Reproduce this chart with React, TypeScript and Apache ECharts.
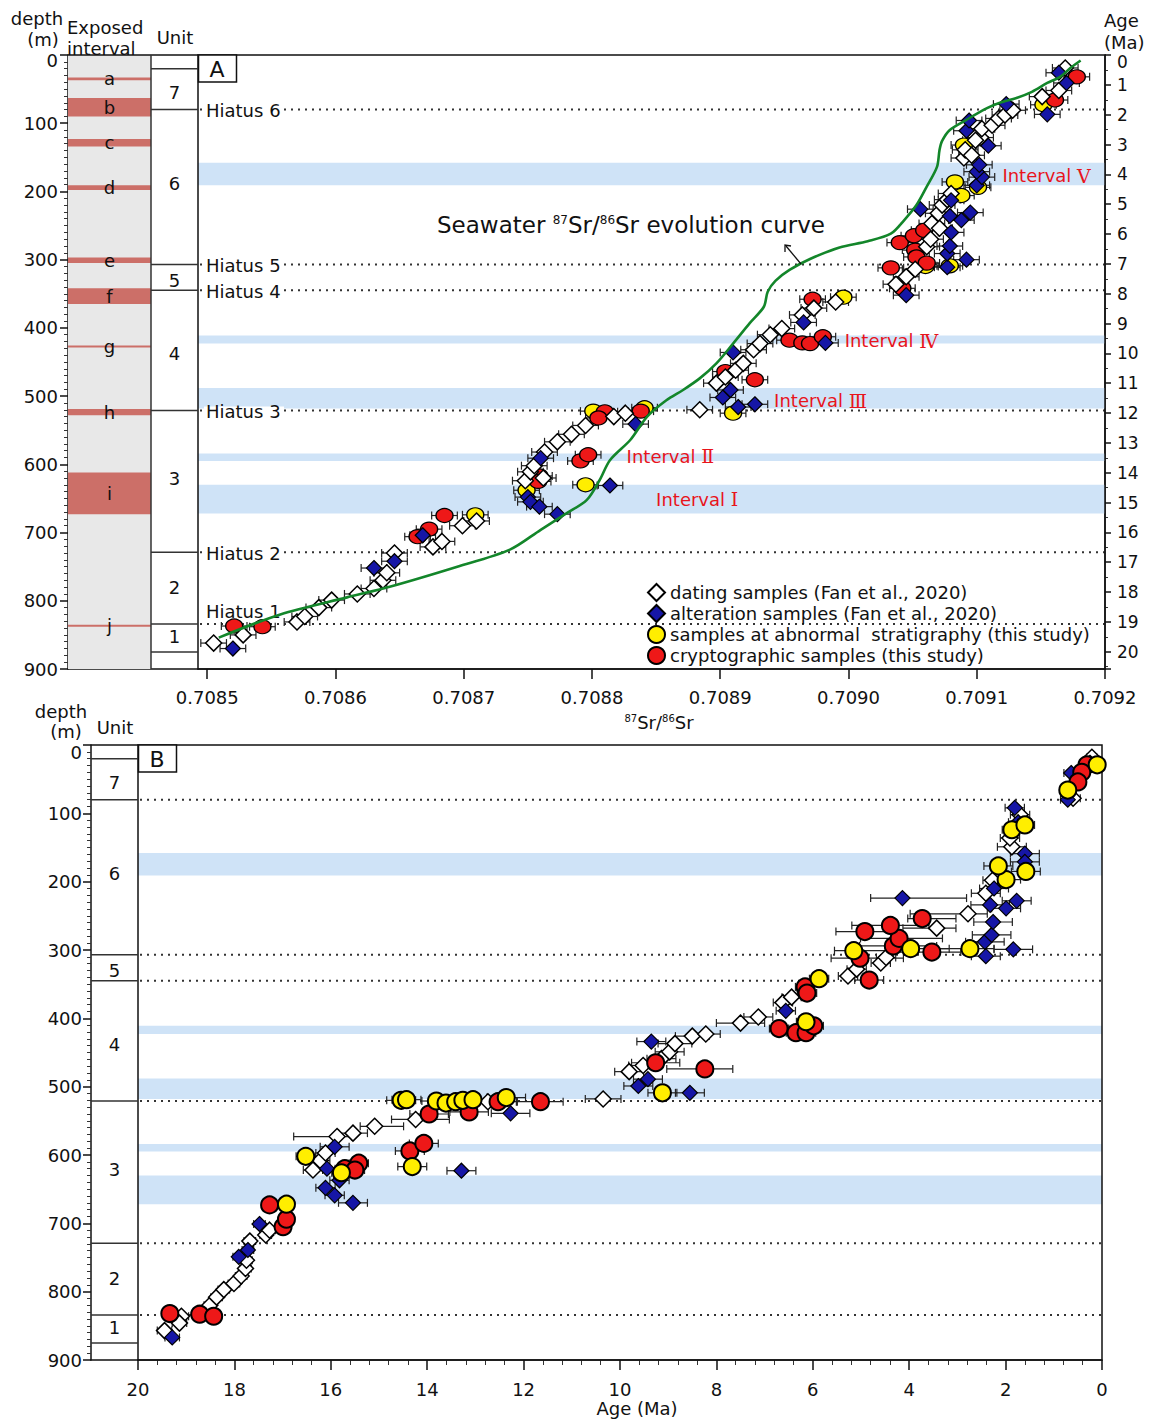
import React, { useEffect, useRef } from 'react';
import * as echarts from 'echarts';

const FONT = '"DejaVu Sans", Verdana, sans-serif';
const SERIF = '"DejaVu Serif", "Liberation Serif", serif';

// ---------- names ----------
const N_DATING = 'dating samples (Fan et al., 2020)';
const N_ALTER = 'alteration samples (Fan et al., 2020)';
const N_ABN = 'samples at abnormal  stratigraphy (this study)';
const N_CRYPT = 'cryptographic samples (this study)';

// ---------- axes ----------
const SR_MIN = 0.7084928;
const SR_MAX = 0.7092;
const srTicks = [0.7085, 0.7086, 0.7087, 0.7088, 0.7089, 0.709, 0.7091, 0.7092];
const AGE_A_MAX = 20.58;
const DEPTH_MAX = 900;

// ---------- panel A : [87Sr/86Sr, depth (m), ± error] ----------
const datingA = [
  [0.708505, 862, 0.00001], [0.708528, 850, 0.00001], [0.70857, 831, 0.00001], [0.708576, 823, 0.00001],
  [0.708587, 810, 0.00001], [0.708597, 799, 0.00001], [0.708617, 790, 0.00001], [0.70863, 782, 0.00001],
  [0.708637, 770, 0.00001], [0.70864, 759, 0.00001], [0.708646, 730, 0.00001], [0.708676, 721, 0.00001],
  [0.708683, 713, 0.00001], [0.708699, 690, 0.00001], [0.70871, 683, 0.00001],
  [0.708748, 624, 0.00001], [0.708752, 611, 0.00001], [0.708755, 602, 0.00001], [0.708762, 620, 0.00001],
  [0.708763, 582, 0.00001], [0.708773, 567, 0.00001], [0.708784, 556, 0.00001], [0.708795, 543, 0.00001],
  [0.708817, 530, 0.00001], [0.708826, 525, 0.00001], [0.708884, 520, 0.00001],
  [0.708897, 481, 0.00001], [0.708904, 472, 0.00001], [0.708912, 462, 0.00001], [0.708918, 452, 0.00001],
  [0.708926, 432, 0.00001], [0.708931, 423, 0.00001], [0.708939, 410, 0.00001], [0.708948, 401, 0.00001],
  [0.708964, 381, 0.00001], [0.708973, 371, 0.00001], [0.70899, 362, 0.00001],
  [0.709037, 336, 0.00001], [0.709045, 325, 0.00001], [0.709052, 314, 0.00001], [0.709061, 281, 0.00001],
  [0.709064, 270, 0.00001], [0.709065, 247, 0.00001], [0.709071, 254, 0.00001], [0.70907, 232, 0.00001],
  [0.709073, 220, 0.00001], [0.709077, 212, 0.00001], [0.70908, 203, 0.00001], [0.70909, 151, 0.00001],
  [0.709091, 139, 0.00001], [0.709096, 147, 0.00001], [0.709103, 121, 0.00001], [0.709104, 108, 0.00001],
  [0.709099, 125, 0.00001], [0.709112, 103, 0.00001], [0.709117, 93, 0.00001], [0.709122, 88, 0.00001],
  [0.709128, 81, 0.00001], [0.709151, 61, 0.00001], [0.709164, 52, 0.00001], [0.709169, 19, 0.00001],
];
const alterationA = [
  [0.70852, 870, 0.00001], [0.70863, 752, 0.00001], [0.708646, 742, 0.00001], [0.708668, 704, 0.00001],
  [0.70876, 591, 0.00001], [0.70875, 648, 0.00001], [0.708752, 655, 0.00001], [0.708759, 662, 0.00001],
  [0.708773, 673, 0.00001], [0.708814, 631, 0.00001], [0.708834, 541, 0.00001], [0.708914, 516, 0.00001],
  [0.708927, 512, 0.00001], [0.708902, 502, 0.00001], [0.708908, 491, 0.00001], [0.70891, 436, 0.00001],
  [0.708982, 422, 0.00001], [0.708965, 392, 0.00001], [0.709045, 352, 0.00001], [0.709077, 311, 0.00001],
  [0.709092, 300, 0.00001], [0.709077, 291, 0.00001], [0.709079, 280, 0.00001], [0.70908, 260, 0.00001],
  [0.709079, 236, 0.00001], [0.709088, 242, 0.00001], [0.709095, 231, 0.00001], [0.709056, 226, 0.00001],
  [0.70908, 213, 0.00001], [0.7091, 191, 0.00001], [0.709104, 179, 0.00001], [0.7091, 171, 0.00001],
  [0.709102, 161, 0.00001], [0.709109, 133, 0.00001], [0.709092, 111, 0.00001], [0.709094, 96, 0.00001],
  [0.709123, 72, 0.00001], [0.709155, 87, 0.00001], [0.70917, 41, 0.00001], [0.709164, 26, 0.00001],
];
const abnormalA = [
  [0.708709, 674, 0.00001], [0.708749, 638, 0.00001], [0.708795, 630, 0.00001], [0.708801, 522, 0.00001],
  [0.708841, 517, 0.00001], [0.70891, 525, 0.00001], [0.708996, 355, 0.00001], [0.70906, 310, 0.00001],
  [0.709079, 309, 0.00001], [0.709088, 206, 0.00001], [0.709083, 186, 0.00001], [0.709101, 194, 0.00001],
  [0.70909, 132, 0.00001], [0.709152, 73, 0.00001],
];
const cryptoA = [
  [0.708521, 837, 0.00001], [0.708543, 838, 0.00001], [0.708664, 706, 0.00001], [0.708673, 695, 0.00001],
  [0.708685, 675, 0.00001], [0.708759, 617, 0.00001], [0.708758, 625, 0.00001], [0.708791, 595, 0.00001],
  [0.708797, 586, 0.00001], [0.70881, 523, 0.00001], [0.708805, 532, 0.00001], [0.708838, 522, 0.00001],
  [0.708927, 476, 0.00001], [0.708904, 464, 0.00001], [0.708954, 418, 0.00001], [0.708964, 422, 0.00001],
  [0.70897, 423, 0.00001], [0.70898, 413, 0.00001], [0.708972, 358, 0.00001], [0.709033, 312, 0.00001],
  [0.70904, 275, 0.00001], [0.709051, 265, 0.00001], [0.709059, 257, 0.00001], [0.709052, 286, 0.00001],
  [0.709053, 296, 0.00001], [0.709061, 305, 0.00001], [0.709042, 342, 0.00001], [0.709161, 66, 0.00001],
  [0.709178, 32, 0.00001],
];

// seawater 87Sr/86Sr evolution curve [ratio, depth]
const seawaterCurve = [
  [0.708509, 854], [0.708557, 820], [0.708609, 795], [0.708643, 779], [0.708695, 750], [0.708736, 725],
  [0.70876, 696], [0.70878, 672], [0.708796, 652], [0.708806, 623], [0.708814, 594], [0.70883, 564],
  [0.708843, 530], [0.708858, 506], [0.708871, 491], [0.708884, 474], [0.708897, 452], [0.70891, 423],
  [0.708923, 393], [0.708934, 369], [0.708937, 347], [0.708943, 331], [0.708954, 315], [0.70897, 299],
  [0.708993, 282], [0.709015, 273], [0.709033, 262], [0.709043, 243], [0.709053, 220], [0.709061, 193],
  [0.709069, 164], [0.709071, 139], [0.709073, 126], [0.709079, 110], [0.709092, 95], [0.709108, 78],
  [0.709118, 70], [0.709131, 63], [0.709143, 54], [0.709155, 41], [0.709165, 32], [0.709173, 19],
  [0.709181, 8],
];

// ---------- panel B : [age (Ma), depth (m), older error, younger error] ----------
const datingB = [
  [19.1, 836, 0.15, 0.15], [19.14, 846, 0.15, 0.15], [19.45, 857, 0.15, 0.15], [18.51, 820, 0.12, 0.12],
  [18.37, 808, 0.12, 0.12], [18.22, 797, 0.12, 0.12], [18.01, 788, 0.12, 0.12], [17.86, 777, 0.12, 0.12],
  [17.77, 766, 0.12, 0.12], [17.75, 754, 0.12, 0.12], [17.68, 726, 0.12, 0.12], [17.35, 717, 0.12, 0.12],
  [17.27, 710, 0.12, 0.12], [16.37, 622, 0.2, 0.2], [16.22, 608, 0.2, 0.2], [16.11, 597, 0.2, 0.2],
  [15.87, 573, 0.9, 0.3], [15.54, 568, 0.3, 0.3], [15.09, 558, 0.3, 0.6], [14.24, 548, 0.5, 0.7],
  [12.74, 522, 0.3, 0.3], [10.35, 518, 0.37, 0.37], [9.81, 478, 0.3, 0.3], [9.52, 469, 0.3, 0.3],
  [9.14, 459, 0.3, 0.3], [8.97, 449, 0.3, 0.3], [8.86, 437, 0.35, 0.35], [8.5, 426, 0.35, 0.35],
  [8.22, 423, 0.3, 0.3], [7.5, 407, 0.5, 0.5], [7.13, 398, 0.3, 0.3], [6.62, 377, 0.2, 0.2],
  [6.44, 369, 0.2, 0.2], [5.27, 338, 0.2, 0.2], [5.09, 328, 0.2, 0.2], [4.59, 319, 0.2, 0.2],
  [4.48, 311, 0.2, 0.2], [3.43, 268, 0.7, 0.4], [2.78, 247, 1.2, 0.4], [2.41, 217, 0.3, 0.3],
  [2.27, 198, 0.2, 0.2], [1.87, 149, 0.3, 0.3], [1.7, 102, 0.2, 0.2], [1.91, 136, 0.2, 0.2],
  [0.5, 48, 0.15, 0.15], [0.21, 18, 0.1, 0.1], [0.6, 78, 0.15, 0.15],
];
const alterationB = [
  [19.29, 867, 0.15, 0.15], [17.91, 749, 0.12, 0.12], [17.72, 739, 0.12, 0.12], [17.48, 701, 0.12, 0.12],
  [16.08, 620, 0.2, 0.2], [16.11, 648, 0.2, 0.2], [15.92, 659, 0.2, 0.2], [15.82, 637, 0.2, 0.2],
  [15.54, 670, 0.3, 0.3], [15.92, 588, 0.3, 0.3], [13.29, 623, 0.3, 0.3], [12.27, 539, 0.4, 0.4],
  [9.35, 434, 0.3, 0.3], [9.42, 489, 0.3, 0.3], [9.62, 499, 0.3, 0.3], [8.55, 509, 0.3, 0.3],
  [6.56, 389, 0.2, 0.2], [4.14, 224, 0.66, 1.33], [2.41, 309, 0.3, 0.3], [1.84, 299, 0.4, 0.4],
  [2.43, 288, 0.4, 0.4], [2.29, 278, 0.4, 0.4], [2.26, 259, 0.4, 0.4], [2.32, 234, 0.4, 0.4],
  [1.99, 239, 0.3, 0.3], [1.77, 228, 0.3, 0.3], [2.24, 210, 0.3, 0.3], [1.6, 159, 0.3, 0.3],
  [1.6, 171, 0.3, 0.3], [1.81, 92, 0.2, 0.2], [1.74, 113, 0.2, 0.2], [0.64, 41, 0.15, 0.15],
  [0.25, 26, 0.1, 0.1], [0.71, 80, 0.15, 0.15],
];
const abnormalB = [
  [16.92, 672, 0.15, 0.15], [16.52, 602, 0.2, 0.2], [15.78, 626, 0.2, 0.2], [14.31, 617, 0.3, 0.3],
  [14.54, 520, 0.3, 0.3], [14.43, 519, 0.3, 0.3], [13.81, 521, 0.3, 0.3], [13.61, 524, 0.3, 0.3],
  [13.41, 522, 0.3, 0.3], [13.26, 520, 0.3, 0.3], [13.05, 519, 0.3, 0.3], [12.36, 516, 0.4, 0.4],
  [9.12, 509, 0.3, 0.3], [6.14, 405, 0.2, 0.2], [5.87, 342, 0.2, 0.2], [5.15, 301, 0.4, 0.8],
  [3.97, 298, 0.5, 0.8], [2.74, 298, 0.9, 0.5], [1.99, 197, 0.3, 0.3], [2.15, 177, 0.3, 0.3],
  [1.58, 185, 0.3, 0.3], [1.87, 124, 0.2, 0.2], [1.6, 117, 0.2, 0.2], [0.71, 66, 0.15, 0.15],
  [0.1, 29, 0.1, 0.1],
];
const cryptoB = [
  [19.34, 832, 0.15, 0.15], [18.72, 833, 0.15, 0.15], [18.43, 836, 0.15, 0.15], [16.99, 705, 0.15, 0.15],
  [16.92, 694, 0.15, 0.15], [17.27, 673, 0.15, 0.15], [15.71, 620, 0.2, 0.2], [15.42, 612, 0.2, 0.2],
  [15.5, 622, 0.2, 0.2], [14.36, 594, 0.3, 0.3], [14.07, 583, 0.3, 0.3], [13.96, 540, 0.4, 0.4],
  [13.13, 537, 0.4, 0.4], [12.53, 522, 0.4, 0.4], [11.65, 522, 0.5, 0.47], [9.26, 465, 0.5, 0.5],
  [8.24, 474, 0.79, 0.58], [6.7, 415, 0.2, 0.2], [6.35, 421, 0.2, 0.2], [6.14, 421, 0.2, 0.2],
  [5.98, 411, 0.2, 0.2], [6.16, 354, 0.2, 0.2], [6.12, 363, 0.2, 0.2], [4.83, 344, 0.3, 0.3],
  [5.02, 312, 0.6, 0.9], [4.33, 294, 0.7, 0.9], [4.21, 283, 0.8, 0.9], [3.53, 303, 0.8, 0.6],
  [4.92, 273, 0.6, 0.6], [4.39, 264, 0.8, 0.8], [3.73, 254, 0.3, 0.7], [0.31, 29, 0.1, 0.1],
  [0.42, 40, 0.1, 0.1], [0.5, 54, 0.1, 0.1],
];

// ---------- stratigraphy ----------
const exposedIntervals = [
  [33, 37, 'a'], [63, 90, 'b'], [123, 134, 'c'], [191, 198, 'd'], [297, 305, 'e'],
  [342, 365, 'f'], [426, 428.5, 'g'], [519, 528, 'h'], [612, 673, 'i'], [835.5, 838, 'j'],
];
const unitBoundaries = [20, 80, 307, 345, 521, 729, 834, 875];
const unitLabels = [[55, '7'], [188, '6'], [330, '5'], [438, '4'], [621, '3'], [780, '2'], [853, '1']];
const hiatuses = [
  [80, 'Hiatus 6'], [307, 'Hiatus 5'], [345, 'Hiatus 4'], [521, 'Hiatus 3'], [729, 'Hiatus 2'], [834, 'Hiatus 1'],
];
const intervalBands = [[158, 191], [411, 423], [488, 518], [584, 595], [630, 672]];
const intervalLabels = [
  [0.70912, 177, 'Ⅴ'], [0.708997, 419, 'Ⅳ'], [0.708942, 507, 'Ⅲ'], [0.708827, 588, 'Ⅱ'], [0.70885, 651, 'Ⅰ'],
];

// ---------- styles ----------
const INK = '#111';
const BLUE_BAND = '#cfe3f7';
const RED_BAND = '#cc6f68';
const RED_TEXT = '#e8141c';
const C_BLUE = '#1616a6';
const C_YELLOW = '#ffee00';
const C_RED = '#ee1818';

function errRenderer(kind: 'A' | 'B') {
  return (params: any, api: any) => {
    const x = api.value(0);
    const y = api.value(1);
    let p0, p1;
    if (kind === 'A') {
      const e = api.value(2);
      p0 = api.coord([x - e, y]);
      p1 = api.coord([x + e, y]);
    } else {
      p0 = api.coord([x + api.value(2), y]);
      p1 = api.coord([x - api.value(3), y]);
    }
    const st = { stroke: '#222', lineWidth: 1.2 };
    const c = 4;
    return {
      type: 'group',
      children: [
        { type: 'line', shape: { x1: p0[0], y1: p0[1], x2: p1[0], y2: p1[1] }, style: st },
        { type: 'line', shape: { x1: p0[0], y1: p0[1] - c, x2: p0[0], y2: p0[1] + c }, style: st },
        { type: 'line', shape: { x1: p1[0], y1: p1[1] - c, x2: p1[0], y2: p1[1] + c }, style: st },
      ],
    };
  };
}

function bandSeries(xi: number, yi: number, xRef: number) {
  return {
    type: 'custom', xAxisIndex: xi, yAxisIndex: yi, silent: true, z: 1,
    data: intervalBands.map((b) => [xRef, b[0], b[1]]),
    encode: { x: 0, y: [1, 2] },
    renderItem: (params: any, api: any) => {
      const cs = params.coordSys;
      const y0 = api.coord([xRef, api.value(1)])[1];
      const y1 = api.coord([xRef, api.value(2)])[1];
      return { type: 'rect', shape: { x: cs.x, y: y0, width: cs.width, height: y1 - y0 }, style: { fill: BLUE_BAND } };
    },
  };
}

function hiatusSeries(xi: number, yi: number, xRef: number, withLabels: boolean) {
  return {
    type: 'custom', xAxisIndex: xi, yAxisIndex: yi, silent: true, z: 2,
    data: hiatuses.map((h) => [xRef, h[0]]),
    encode: { x: 0, y: 1 },
    renderItem: (params: any, api: any) => {
      const cs = params.coordSys;
      const y = api.coord([xRef, api.value(1)])[1];
      const children: any[] = [
        { type: 'line', shape: { x1: cs.x + 2, y1: y, x2: cs.x + cs.width, y2: y }, style: { stroke: '#333', lineWidth: 2, lineDash: [2, 5] } },
      ];
      if (withLabels) {
        const label = hiatuses[params.dataIndex][1] as string;
        const above = params.dataIndex === hiatuses.length - 1;
        if (!above) {
          children.push({ type: 'rect', shape: { x: cs.x + 6, y: y - 4, width: 80, height: 8 }, style: { fill: '#fff' } });
        }
        children.push({
          type: 'text', x: cs.x + 8, y: above ? y - 12 : y + 1,
          style: { text: label, fill: INK, fontSize: 18, fontFamily: FONT, align: 'left', verticalAlign: 'middle' },
        });
      }
      return { type: 'group', children };
    },
  };
}

function unitSeries(xi: number, yi: number, x0: number, x1: number, withDivider: boolean) {
  return [
    {
      type: 'custom', xAxisIndex: xi, yAxisIndex: yi, silent: true, z: 5,
      data: unitBoundaries.map((d) => [x0, d]),
      encode: { x: 0, y: 1 },
      renderItem: (params: any, api: any) => {
        const a = api.coord([x0, api.value(1)]);
        const b = api.coord([x1, api.value(1)]);
        return { type: 'line', shape: { x1: a[0], y1: a[1], x2: b[0], y2: b[1] }, style: { stroke: '#333', lineWidth: 1.5 } };
      },
    },
    {
      type: 'custom', xAxisIndex: xi, yAxisIndex: yi, silent: true, z: 5,
      data: unitLabels.map((u) => [(x0 + x1) / 2, u[0]]),
      encode: { x: 0, y: 1 },
      renderItem: (params: any, api: any) => {
        const p = api.coord([api.value(0), api.value(1)]);
        return {
          type: 'text', x: p[0], y: p[1],
          style: { text: unitLabels[params.dataIndex][1] as string, fill: INK, fontSize: 18, fontFamily: FONT, align: 'center', verticalAlign: 'middle' },
        };
      },
    },
    {
      type: 'custom', xAxisIndex: xi, yAxisIndex: yi, silent: true, z: 5,
      data: [[0, 0]],
      encode: { x: 0, y: 1 },
      renderItem: (params: any, api: any) => {
        const cs = params.coordSys;
        const children: any[] = [
          { type: 'line', shape: { x1: cs.x, y1: cs.y, x2: cs.x + cs.width, y2: cs.y }, style: { stroke: INK, lineWidth: 1.5 } },
        ];
        if (withDivider) {
          const xb = api.coord([x0, 0])[0];
          children.push({ type: 'line', shape: { x1: xb, y1: cs.y, x2: xb, y2: cs.y + cs.height }, style: { stroke: '#333', lineWidth: 1.5 } });
        }
        return { type: 'group', children };
      },
    },
  ];
}

const scatterStyle = (fill: string, bw: number) => ({ color: fill, borderColor: '#000', borderWidth: bw, opacity: 1 });

function scatterSet(panel: 'A' | 'B') {
  const xi = panel === 'A' ? 0 : 2;
  const yi = panel === 'A' ? 0 : 3;
  const d = panel === 'A' ? [datingA, alterationA, abnormalA, cryptoA] : [datingB, alterationB, abnormalB, cryptoB];
  const circ = panel === 'A' ? [17, 14] : [17, 17];
  const bwc = panel === 'A' ? 1.3 : 2;
  const zs = panel === 'A' ? [6, 7, 4, 5] : [4, 5, 7, 6];
  return [
    { name: N_DATING, type: 'scatter', xAxisIndex: xi, yAxisIndex: yi, symbol: 'diamond', symbolSize: [16, 16], z: zs[0], data: d[0], itemStyle: scatterStyle('#ffffff', 1.5), silent: true },
    { name: N_ALTER, type: 'scatter', xAxisIndex: xi, yAxisIndex: yi, symbol: 'diamond', symbolSize: [15, 15], z: zs[1], data: d[1], itemStyle: scatterStyle(C_BLUE, 1.2), silent: true },
    { name: N_ABN, type: 'scatter', xAxisIndex: xi, yAxisIndex: yi, symbol: 'circle', symbolSize: circ, z: zs[2], data: d[2], itemStyle: scatterStyle(C_YELLOW, bwc), silent: true },
    { name: N_CRYPT, type: 'scatter', xAxisIndex: xi, yAxisIndex: yi, symbol: 'circle', symbolSize: circ, z: zs[3], data: d[3], itemStyle: scatterStyle(C_RED, bwc), silent: true },
  ];
}

const tickLine = { color: INK, width: 1.5 };
const minorLine = { color: '#333', width: 1 };
const labelBase = { fontFamily: FONT, fontSize: 18, color: INK };

function depthAxis(gridIndex: number, show: boolean, margin: number, zeroPad: number) {
  return {
    gridIndex, type: 'value', inverse: true, min: 0, max: DEPTH_MAX, interval: 100, show,
    axisLine: { show: true, lineStyle: { color: INK, width: 1.5 } },
    axisTick: { show: true, length: 8, lineStyle: tickLine },
    minorTick: { show: true, splitNumber: 10, length: 4, lineStyle: minorLine },
    axisLabel: {
      ...labelBase, margin,
      formatter: (v: number) => (v === 0 ? '{z|0}' : String(v)),
      rich: { z: { fontFamily: FONT, fontSize: 18, color: INK, padding: [zeroPad, 0, 0, 0] } },
    },
    splitLine: { show: false },
    minorSplitLine: { show: false },
  };
}

function gtext(x: number, y: number, text: string, extra: any = {}) {
  return {
    type: 'text', x, y, z: 100,
    style: { text, fill: INK, fontSize: 18, fontFamily: FONT, align: 'center', verticalAlign: 'middle', ...extra },
  };
}

const supRich = {
  n: { fontSize: 18, fontFamily: FONT, fill: INK, verticalAlign: 'bottom' },
  s: { fontSize: 10, fontFamily: FONT, fill: INK, verticalAlign: 'top' },
};

const option: any = {
  animation: false,
  backgroundColor: '#ffffff',
  grid: [
    { left: 198, top: 55, width: 907, height: 614, show: true, borderColor: INK, borderWidth: 1.5, backgroundColor: 'transparent', z: 3 },
    { left: 68, top: 55, width: 130, height: 614, show: false },
    { left: 138, top: 745, width: 964, height: 615, show: true, borderColor: INK, borderWidth: 1.5, backgroundColor: 'transparent', z: 3 },
    { left: 91, top: 745, width: 47, height: 615, show: false },
  ],
  xAxis: [
    {
      gridIndex: 0, type: 'value', min: SR_MIN, max: SR_MAX, position: 'bottom',
      axisLine: { show: true, onZero: false, lineStyle: { color: INK, width: 1.5 } },
      axisTick: { show: true, length: 10, customValues: srTicks, lineStyle: tickLine },
      axisLabel: { ...labelBase, margin: 19, customValues: srTicks, formatter: (v: number) => v.toFixed(4) },
      splitLine: { show: false },
    },
    {
      gridIndex: 1, type: 'value', min: 0, max: 130, position: 'bottom',
      axisLine: { show: true, onZero: false, lineStyle: { color: INK, width: 1.5 } },
      axisTick: { show: false }, axisLabel: { show: false }, splitLine: { show: false },
    },
    {
      gridIndex: 2, type: 'value', min: 0, max: 20, interval: 2, inverse: true, position: 'bottom',
      axisLine: { show: true, onZero: false, lineStyle: { color: INK, width: 1.5 } },
      axisTick: { show: true, length: 10, lineStyle: tickLine },
      minorTick: { show: true, splitNumber: 5, length: 5, lineStyle: minorLine },
      axisLabel: { ...labelBase, margin: 20 },
      splitLine: { show: false }, minorSplitLine: { show: false },
    },
    {
      gridIndex: 3, type: 'value', min: 0, max: 47, position: 'bottom',
      axisLine: { show: true, onZero: false, lineStyle: { color: INK, width: 1.5 } },
      axisTick: { show: false }, axisLabel: { show: false }, splitLine: { show: false },
    },
  ],
  yAxis: [
    { ...depthAxis(0, false, 10, 0) },
    {
      gridIndex: 0, type: 'value', position: 'right', inverse: true, min: 0, max: AGE_A_MAX, interval: 1,
      axisLine: { show: true, onZero: false, lineStyle: { color: INK, width: 1.5 } },
      axisTick: { show: true, length: 6, lineStyle: tickLine },
      minorTick: { show: true, splitNumber: 2, length: 3, lineStyle: minorLine },
      axisLabel: {
        ...labelBase, fontSize: 17, margin: 12,
        formatter: (v: number) => {
          if (Math.abs(v - Math.round(v)) > 1e-6) return '';
          return Math.round(v) === 0 ? '{z|0}' : String(Math.round(v));
        },
        rich: { z: { fontFamily: FONT, fontSize: 17, color: INK, padding: [14, 0, 0, 0] } },
      },
      splitLine: { show: false }, minorSplitLine: { show: false },
    },
    { ...depthAxis(1, true, 10, 10) },
    { ...depthAxis(2, false, 10, 0) },
    { ...depthAxis(3, true, 9, 14) },
  ],
  legend: {
    orient: 'vertical', left: 642, top: 578, itemWidth: 17, itemHeight: 17, itemGap: 2,
    selectedMode: false,
    textStyle: { fontFamily: FONT, fontSize: 18, color: INK },
    data: [
      { name: N_DATING, icon: 'diamond' },
      { name: N_ALTER, icon: 'diamond' },
      { name: N_ABN, icon: 'circle' },
      { name: N_CRYPT, icon: 'circle' },
    ],
  },
  graphic: [
    gtext(37, 18, 'depth'),
    gtext(43, 39, '(m)'),
    gtext(67, 27, 'Exposed', { align: 'left' }),
    gtext(67, 48, 'interval', { align: 'left' }),
    gtext(175, 37, 'Unit'),
    gtext(1104, 20, 'Age', { align: 'left' }),
    gtext(1104, 42, '(Ma)', { align: 'left' }),
    { type: 'rect', z: 99, shape: { x: 198.5, y: 55, width: 38, height: 27 }, style: { fill: '#fff', stroke: INK, lineWidth: 1.5 } },
    gtext(217, 69, 'A', { fontSize: 22 }),
    { type: 'rect', z: 99, shape: { x: 138.5, y: 745, width: 38, height: 27 }, style: { fill: '#fff', stroke: INK, lineWidth: 1.5 } },
    gtext(157, 759, 'B', { fontSize: 22 }),
    gtext(61, 711, 'depth'),
    gtext(66, 731, '(m)'),
    gtext(115, 727, 'Unit'),
    gtext(637, 1408, 'Age (Ma)'),
    {
      type: 'text', x: 659, y: 722, z: 100,
      style: { text: '{s|87}{n|Sr/}{s|86}{n|Sr}', rich: supRich, align: 'center', verticalAlign: 'middle' },
    },
    {
      type: 'text', x: 437, y: 225, z: 100,
      style: {
        text: '{n|Seawater }{s|87}{n|Sr/}{s|86}{n|Sr evolution curve}',
        rich: {
          n: { fontSize: 23, fontFamily: FONT, fill: INK, verticalAlign: 'bottom' },
          s: { fontSize: 12, fontFamily: FONT, fill: INK, verticalAlign: 'top' },
        },
        align: 'left', verticalAlign: 'middle',
      },
    },
    { type: 'line', z: 100, shape: { x1: 801, y1: 264, x2: 786, y2: 246 }, style: { stroke: INK, lineWidth: 1.3 } },
    { type: 'polyline', z: 100, shape: { points: [[785, 252], [785, 245], [791, 246]] }, style: { stroke: INK, lineWidth: 1.3, fill: 'none' } },
  ],
  series: [
    // ---- panel A decorations ----
    bandSeries(0, 0, SR_MIN),
    hiatusSeries(0, 0, SR_MIN, true),
    {
      type: 'custom', xAxisIndex: 0, yAxisIndex: 0, silent: true, z: 8,
      data: intervalLabels.map((l) => [l[0], l[1]]),
      encode: { x: 0, y: 1 },
      renderItem: (params: any, api: any) => {
        const p = api.coord([api.value(0), api.value(1)]);
        return {
          type: 'text', x: p[0], y: p[1],
          style: {
            text: '{t|Interval }{n|' + intervalLabels[params.dataIndex][2] + '}',
            fill: RED_TEXT,
            rich: {
              t: { fontSize: 18, fontFamily: FONT, fill: RED_TEXT },
              n: { fontSize: 19, fontFamily: SERIF, fill: RED_TEXT },
            },
            align: 'left', verticalAlign: 'middle',
          },
        };
      },
    },
    {
      type: 'custom', xAxisIndex: 0, yAxisIndex: 0, silent: true, z: 3,
      data: [...datingA, ...alterationA, ...abnormalA, ...cryptoA],
      encode: { x: 0, y: 1 },
      renderItem: errRenderer('A'),
    },
    ...scatterSet('A'),
    {
      type: 'line', xAxisIndex: 0, yAxisIndex: 0, data: seawaterCurve, z: 9, silent: true,
      showSymbol: false, symbol: 'none', smooth: 0.3,
      lineStyle: { color: '#13862a', width: 2.6 },
    },
    // ---- panel A columns ----
    {
      type: 'custom', xAxisIndex: 1, yAxisIndex: 2, silent: true, z: 1,
      data: [[0, 0]],
      encode: { x: 0, y: 1 },
      renderItem: (params: any, api: any) => {
        const p0 = api.coord([0, 0]);
        const p1 = api.coord([83, DEPTH_MAX]);
        return { type: 'rect', shape: { x: p0[0], y: p0[1], width: p1[0] - p0[0], height: p1[1] - p0[1] }, style: { fill: '#e8e8e8' } };
      },
    },
    {
      type: 'custom', xAxisIndex: 1, yAxisIndex: 2, silent: true, z: 2,
      data: exposedIntervals.map((e) => [0, e[0], e[1]]),
      encode: { x: 0, y: [1, 2] },
      renderItem: (params: any, api: any) => {
        const a = api.coord([0, api.value(1)]);
        const b = api.coord([83, api.value(2)]);
        const h = Math.max(2, b[1] - a[1]);
        const mid = (a[1] + b[1]) / 2;
        return {
          type: 'group',
          children: [
            { type: 'rect', shape: { x: a[0], y: mid - h / 2, width: b[0] - a[0], height: h }, style: { fill: RED_BAND } },
            {
              type: 'text', x: (a[0] + b[0]) / 2, y: mid,
              style: { text: exposedIntervals[params.dataIndex][2] as string, fill: INK, fontSize: 18, fontFamily: FONT, align: 'center', verticalAlign: 'middle' },
            },
          ],
        };
      },
    },
    ...unitSeries(1, 2, 83, 130, true),
    // ---- panel B ----
    bandSeries(2, 3, 10),
    hiatusSeries(2, 3, 10, false),
    {
      type: 'custom', xAxisIndex: 2, yAxisIndex: 3, silent: true, z: 3,
      data: [...datingB, ...alterationB, ...abnormalB, ...cryptoB],
      encode: { x: 0, y: 1 },
      renderItem: errRenderer('B'),
    },
    ...scatterSet('B'),
    ...unitSeries(3, 4, 0, 47, false),
  ],
};

export default function App() {
  const ref = useRef<HTMLDivElement>(null);
  useEffect(() => {
    if (!ref.current) return;
    const chart = echarts.init(ref.current, null, { renderer: 'svg' });
    chart.setOption(option);
    return () => chart.dispose();
  }, []);
  return (
    <div
      ref={ref}
      style={{ position: 'absolute', left: 0, top: 0, width: 1151, height: 1419, background: '#ffffff' }}
    />
  );
}
